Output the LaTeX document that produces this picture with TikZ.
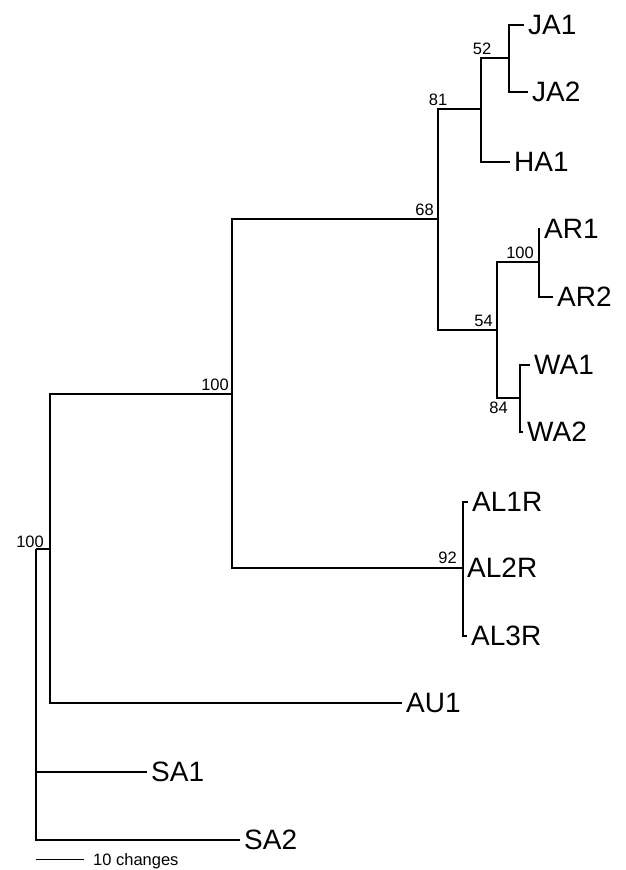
\documentclass[tikz,border=0pt]{standalone}
\usepackage{fontspec}
\setmainfont{Liberation Sans}
\begin{document}
\begin{tikzpicture}[x=1pt,y=-1pt,
  branch/.style={draw=black, line width=1.1pt},
  taxon/.style={anchor=west, inner sep=0pt, xshift=4pt, font=\fontsize{28}{28}\selectfont},
  boot/.style={inner sep=0pt, font=\fontsize{16.5}{16.5}\selectfont}]
\useasboundingbox (0,0) rectangle (626,870);
% internal nodes
\coordinate (r) at (36,549);
\coordinate (n1) at (50,549);
\coordinate (n2) at (232,394);
\coordinate (n3) at (438,219);
\coordinate (n4) at (481,109);
\coordinate (n5) at (509,58);
\coordinate (n6) at (497,330);
\coordinate (n7) at (539,262);
\coordinate (n8) at (520,398);
\coordinate (n9) at (463,568);
% tips
\coordinate (tJA1) at (524,25);
\coordinate (tJA2) at (528,92);
\coordinate (tHA1) at (510,162);
\coordinate (tAR1) at (540,229);
\coordinate (tAR2) at (553,297);
\coordinate (tWA1) at (530,365);
\coordinate (tWA2) at (523,432);
\coordinate (tAL1) at (468,502);
\coordinate (tAL2) at (463,568);
\coordinate (tAL3) at (467,636);
\coordinate (tAU1) at (402,703);
\coordinate (tSA1) at (147,772);
\coordinate (tSA2) at (240,840);
% branches
\draw[branch] (r) -- (n1);
\draw[branch] (r) |- (tSA1);
\draw[branch] (r) |- (tSA2);
\draw[branch] (n1) |- (n2);
\draw[branch] (n1) |- (tAU1);
\draw[branch] (n2) |- (n3);
\draw[branch] (n2) |- (n9);
\draw[branch] (n3) |- (n4);
\draw[branch] (n3) |- (n6);
\draw[branch] (n4) |- (n5);
\draw[branch] (n4) |- (tHA1);
\draw[branch] (n5) |- (tJA1);
\draw[branch] (n5) |- (tJA2);
\draw[branch] (n6) |- (n7);
\draw[branch] (n6) |- (n8);
\draw[branch] (n7) |- (tAR1);
\draw[branch] (n7) |- (tAR2);
\draw[branch] (n8) |- (tWA1);
\draw[branch] (n8) |- (tWA2);
\draw[branch] (n9) |- (tAL1);
\draw[branch] (n9) |- (tAL3);
% taxon labels
\node[taxon] (JA1) at (tJA1) {JA1};
\node[taxon] (JA2) at (tJA2) {JA2};
\node[taxon] (HA1) at (tHA1) {HA1};
\node[taxon] (AR1) at (tAR1) {AR1};
\node[taxon] (AR2) at (tAR2) {AR2};
\node[taxon] (WA1) at (tWA1) {WA1};
\node[taxon] (WA2) at (tWA2) {WA2};
\node[taxon] (AL1R) at (tAL1) {AL1R};
\node[taxon] (AL2R) at (tAL2) {AL2R};
\node[taxon] (AL3R) at (tAL3) {AL3R};
\node[taxon] (AU1) at (tAU1) {AU1};
\node[taxon] (SA1) at (tSA1) {SA1};
\node[taxon] (SA2) at (tSA2) {SA2};
% bootstrap values
\node[boot, anchor=base east] (b1) at (44,547) {100};
\node[boot, anchor=base east] (b2) at (229,390) {100};
\node[boot, anchor=base east] (b3) at (434,215) {68};
\node[boot, anchor=base] (b4) at (438,105) {81};
\node[boot, anchor=base] (b5) at (482,54) {52};
\node[boot, anchor=base east] (b6) at (493,326) {54};
\node[boot, anchor=base east] (b7) at (534,258) {100};
\node[boot, anchor=base east] (b8) at (508,413) {84};
\node[boot, anchor=base east] (b9) at (457,563) {92};
% scale bar
\coordinate (s0) at (36,859);
\coordinate (s1) at (84,859);
\draw[line width=1pt] (s0) -- (s1);
\node[boot, anchor=base west] (scale) at (93,865) {10 changes};
\end{tikzpicture}
\end{document}
